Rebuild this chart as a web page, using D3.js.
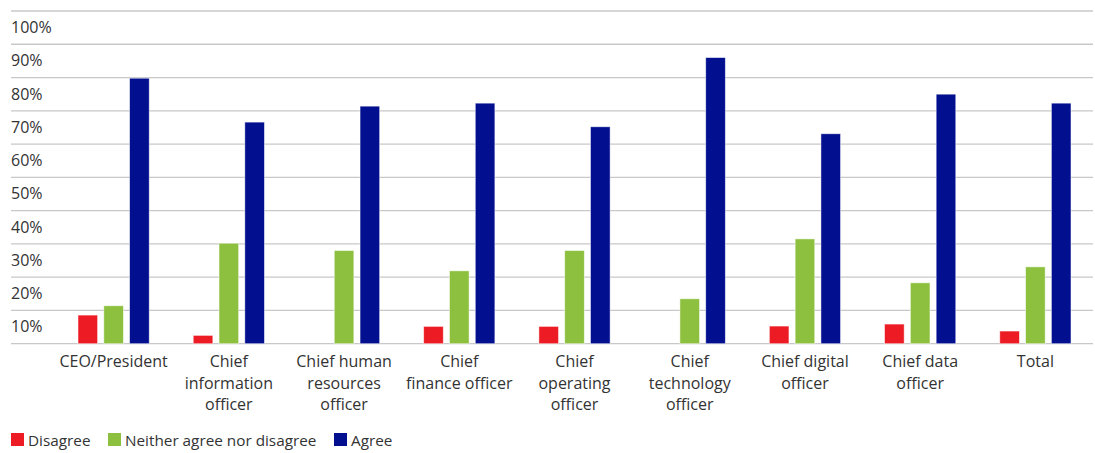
<!DOCTYPE html>
<html>
<head>
<meta charset="utf-8">
<script src="https://cdn.jsdelivr.net/npm/d3@7"></script>
<style>
  html, body { margin: 0; padding: 0; background: #fff; }
  svg { display: block; font-family: "Open Sans", "Noto Sans", sans-serif; }
</style>
</head>
<body>
<svg id="chart" width="1095" height="453"></svg>
<script>
// Survey responses by role (% of respondents)
const categories = [
  "CEO/President",
  "Chief\ninformation\nofficer",
  "Chief human\nresources\nofficer",
  "Chief\nfinance officer",
  "Chief\noperating\nofficer",
  "Chief\ntechnology\nofficer",
  "Chief digital\nofficer",
  "Chief data\nofficer",
  "Total"
];
const seriesNames = ["Disagree", "Neither agree nor disagree", "Agree"];
const disagree = [8.6, 2.5, 0, 5.2, 5.2, 0, 5.3, 5.9, 3.8];
const neither  = [11.4, 30.2, 28.0, 21.9, 28.0, 13.5, 31.5, 18.3, 23.1];
const agree    = [79.8, 66.6, 71.4, 72.3, 65.2, 86.0, 63.1, 75.0, 72.3];
const yTicks = [0, 10, 20, 30, 40, 50, 60, 70, 80, 90, 100];
const colors = ["#ED1C24", "#8DC03F", "#020F8F"];

const svg = d3.select("#chart");
const gridLeft = 11, gridRight = 1093;
const plotLeft = 56, plotRight = 1093;
const yTop = 11, yBottom = 343.7;

const y = d3.scaleLinear().domain([0, 100]).range([yBottom, yTop]);
const x0 = d3.scaleBand().domain(d3.range(categories.length)).range([plotLeft, plotRight]).paddingInner(0).paddingOuter(0);
const barW = 19.6, barGap = 6.2;
const x1 = d3.scaleBand().domain(d3.range(3)).range([0, 3 * barW + 2 * barGap]).paddingInner(barGap / (barW + barGap));
const groupW = 3 * barW + 2 * barGap;

// Horizontal gridlines
svg.append("g").selectAll("line").data(yTicks).join("line")
  .attr("x1", gridLeft).attr("x2", gridRight)
  .attr("y1", d => y(d)).attr("y2", d => y(d))
  .attr("stroke", "#c8c8c8").attr("stroke-width", 1.3);

// Tick labels hang just below their gridline
svg.append("g").selectAll("text").data(yTicks.filter(d => d > 0)).join("text")
  .attr("x", 11).attr("y", d => y(d) + 16)
  .attr("dominant-baseline", "central")
  .attr("font-size", 16).attr("fill", "#333")
  .text(d => d + "%");

// Bars
const seriesData = [disagree, neither, agree];
const groups = svg.append("g").selectAll("g").data(categories).join("g")
  .attr("transform", (d, i) => `translate(${x0(i) + (x0.bandwidth() - groupW) / 2},0)`);
groups.selectAll("rect")
  .data((d, i) => seriesData.map((s, k) => ({ k, v: s[i] })).filter(e => e.v > 0))
  .join("rect")
  .attr("x", e => x1(e.k))
  .attr("width", x1.bandwidth())
  .attr("y", e => y(e.v))
  .attr("height", e => y(0) - y(e.v))
  .attr("fill", e => colors[e.k])
  .attr("stroke", "rgba(255,255,255,0.6)")
  .attr("stroke-width", 0.8);

// Category labels
const labels = svg.append("g").selectAll("text").data(categories).join("text")
  .attr("text-anchor", "middle")
  .attr("font-size", 16).attr("fill", "#333")
  .attr("transform", (d, i) => `translate(${x0(i) + x0.bandwidth() / 2},0)`);
labels.selectAll("tspan").data(d => d.split("\n")).join("tspan")
  .attr("x", 0)
  .attr("y", (d, j) => 361 + j * 21.5)
  .attr("dominant-baseline", "central")
  .text(d => d);

// Legend
const legendX = [11, 108, 334];
const legend = svg.append("g").selectAll("g").data(seriesNames).join("g")
  .attr("transform", (d, i) => `translate(${legendX[i]},433)`);
legend.append("rect").attr("width", 13).attr("height", 13).attr("fill", (d, i) => colors[i]);
legend.append("text").attr("x", 17).attr("y", 7)
  .attr("dominant-baseline", "central")
  .attr("font-size", 15.3).attr("fill", "#333")
  .text(d => d);
</script>
</body>
</html>
